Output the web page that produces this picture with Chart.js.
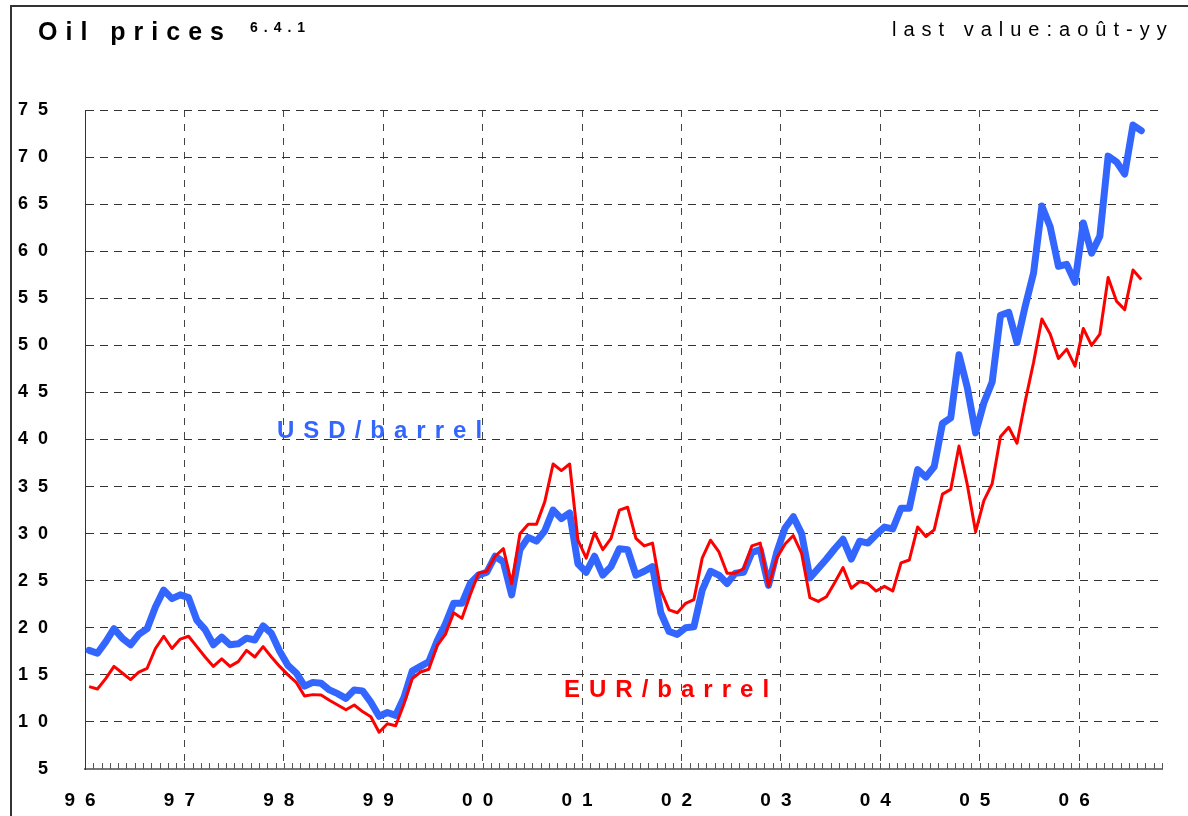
<!DOCTYPE html>
<html>
<head>
<meta charset="utf-8">
<script src="https://cdn.jsdelivr.net/npm/chart.js@4"></script>
<style>
  body { margin: 0; background: #fff; }
  #wrap { position: relative; width: 1188px; height: 816px; overflow: hidden; font-family: "Liberation Sans", Arial, sans-serif; }
  #frame { position: absolute; left: 10px; top: 5px; width: 1300px; height: 900px; border-top: 2px solid #333; border-left: 2px solid #333; }
  .txt { position: absolute; white-space: nowrap; }
  #title { left: 38px; top: 19px; font-size: 25px; line-height: 25px; font-weight: bold; letter-spacing: 8px; color: #000; }
  #titleNo { left: 250px; top: 20px; font-size: 14px; line-height: 14px; font-weight: bold; letter-spacing: 6px; color: #000; }
  #lastValue { left: 892px; top: 19px; font-size: 20px; line-height: 20px; letter-spacing: 7px; color: #000; }
  #usdLabel { left: 277px; top: 418px; font-size: 24px; line-height: 24px; font-weight: bold; letter-spacing: 9px; color: #3366ff; }
  #eurLabel { left: 564px; top: 677px; font-size: 24px; line-height: 24px; font-weight: bold; letter-spacing: 9px; color: #ff0000; }
  canvas { position: absolute; left: 0; top: 0; }
</style>
</head>
<body>
<div id="wrap">
  <div id="frame"></div>
  <canvas id="oilChart" width="1188" height="816"></canvas>
  <div class="txt" id="title">Oil prices</div>
  <div class="txt" id="titleNo">6.4.1</div>
  <div class="txt" id="lastValue">last value:août-yy</div>
  <div class="txt" id="usdLabel">USD/barrel</div>
  <div class="txt" id="eurLabel">EUR/barrel</div>
</div>
<script>
// 年份刻度
let yearLabels = ['96', '97', '98', '99', '00', '01', '02', '03', '04', '05', '06'];

// 月度油价, 1996年1月 - 2006年8月
let usdPerBarrel = [
  17.6, 17.3, 18.5, 19.9, 18.9, 18.2, 19.3, 19.9, 22.2, 24.0, 23.1, 23.5, // 96
  23.2, 20.8, 19.8, 18.2, 19.0, 18.2, 18.3, 18.9, 18.7, 20.2, 19.4, 17.5, // 97
  16.0, 15.2, 13.8, 14.2, 14.1, 13.4, 13.0, 12.5, 13.4, 13.3, 12.1, 10.6, // 98
  11.0, 10.7, 12.6, 15.4, 15.9, 16.4, 18.6, 20.4, 22.6, 22.6, 24.7, 25.6, // 99
  25.9, 27.6, 27.0, 23.5, 28.3, 29.6, 29.2, 30.3, 32.5, 31.6, 32.2, 26.8, // 00
  25.9, 27.6, 25.6, 26.5, 28.4, 28.3, 25.6, 26.0, 26.5, 21.6, 19.6, 19.3, // 01
  20.0, 20.1, 24.0, 26.0, 25.6, 24.7, 25.8, 25.9, 28.0, 28.3, 24.5, 28.0, // 02
  30.6, 31.8, 30.0, 25.3, 26.3, 27.3, 28.4, 29.4, 27.3, 29.2, 29.0, 29.9, // 03
  30.7, 30.5, 32.7, 32.7, 36.8, 36.0, 37.1, 41.7, 42.3, 49.0, 45.5, 40.7, // 04
  43.9, 46.1, 53.2, 53.5, 50.3, 54.2, 57.7, 64.8, 62.6, 58.4, 58.6, 56.7, // 05
  63.0, 59.8, 61.6, 70.1, 69.5, 68.2, 73.4, 72.8                          // 06
];

let eurPerBarrel = [
  13.75, 13.5, 14.6, 15.9, 15.2, 14.5, 15.3, 15.7, 17.8, 19.1, 17.8, 18.8, // 96
  19.1, 18.0, 16.9, 15.9, 16.7, 15.9, 16.4, 17.6, 16.9, 18.0, 16.9, 15.9,  // 97
  15.0, 14.2, 12.75, 12.9, 12.85, 12.3, 11.8, 11.3, 11.8, 11.1, 10.55, 8.9, // 98
  9.8, 9.6, 11.9, 14.6, 15.3, 15.6, 18.1, 19.3, 21.6, 21.0, 23.5, 25.8,    // 99
  26.0, 27.6, 28.4, 24.7, 30.0, 31.0, 31.0, 33.4, 37.4, 36.7, 37.4, 29.3,  // 00
  27.4, 30.1, 28.3, 29.5, 32.5, 32.8, 29.5, 28.7, 29.0, 24.0, 21.9, 21.6,  // 01
  22.6, 23.0, 27.4, 29.3, 28.1, 25.8, 25.8, 26.3, 28.7, 29.0, 24.4, 27.4,  // 02
  28.9, 29.8, 27.9, 23.2, 22.8, 23.3, 24.8, 26.4, 24.2, 24.9, 24.7, 23.9,  // 03
  24.4, 23.9, 26.9, 27.2, 30.7, 29.7, 30.4, 34.2, 34.7, 39.3, 35.2, 30.2,  // 04
  33.5, 35.3, 40.3, 41.3, 39.6, 44.1, 48.2, 52.8, 51.2, 48.6, 49.6, 47.8,  // 05
  51.8, 50.0, 51.2, 57.2, 54.7, 53.8, 58.0, 57.0                           // 06
];

// 月份 -> x (每个月取月中)
function toPoints(values) {
  return values.map(function (v, i) { return { x: i + 0.5, y: v }; });
}

let tickFont = { family: '"Liberation Sans", Arial, sans-serif', weight: 'bold' };

// 刻度文字的字距 + 月份小刻度
let axisDecor = {
  id: 'axisDecor',
  beforeDraw: function (chart) {
    chart.ctx.letterSpacing = '10px';
  },
  afterDraw: function (chart) {
    let ctx = chart.ctx;
    let xs = chart.scales.x;
    let bottom = chart.chartArea.bottom;
    ctx.save();
    ctx.letterSpacing = '0px';
    ctx.strokeStyle = '#555';
    ctx.lineWidth = 1;
    ctx.beginPath();
    for (let m = 1; m <= 130; m++) {
      let px = Math.round(xs.getPixelForValue(m)) + 0.5;
      ctx.moveTo(px, bottom);
      ctx.lineTo(px, bottom - 6);
    }
    ctx.stroke();
    ctx.restore();
  }
};

new Chart(document.getElementById('oilChart'), {
  type: 'line',
  data: {
    datasets: [
      {
        label: 'USD/barrel',
        data: toPoints(usdPerBarrel),
        borderColor: '#3366ff',
        borderWidth: 7,
        borderJoinStyle: 'round',
        borderCapStyle: 'round',
        pointRadius: 0,
        tension: 0,
        order: 2
      },
      {
        label: 'EUR/barrel',
        data: toPoints(eurPerBarrel),
        borderColor: '#ff0000',
        borderWidth: 3,
        borderJoinStyle: 'round',
        pointRadius: 0,
        tension: 0,
        order: 1
      }
    ]
  },
  options: {
    responsive: false,
    animation: false,
    devicePixelRatio: 1,
    layout: { padding: { top: 110, right: 26, bottom: 0, left: 0 } },
    plugins: { legend: { display: false }, tooltip: { enabled: false } },
    scales: {
      x: {
        type: 'linear',
        min: 0,
        max: 130,
        afterFit: function (s) { s.height = 47; },
        grid: { color: '#444', lineWidth: 1, drawTicks: false },
        border: { color: '#777', width: 2, dash: [7, 7] },
        ticks: {
          stepSize: 12,
          includeBounds: false,
          autoSkip: false,
          maxRotation: 0,
          padding: 20,
          color: '#000',
          font: Object.assign({ size: 19 }, tickFont),
          callback: function (v) { return v % 12 === 0 ? yearLabels[v / 12] : ''; }
        }
      },
      y: {
        min: 5,
        max: 75,
        afterFit: function (s) { s.width = 85; },
        grid: { color: '#333', lineWidth: 1, drawTicks: false },
        border: { color: '#333', width: 1, dash: [8, 6] },
        ticks: {
          stepSize: 5,
          padding: 27,
          color: '#000',
          font: Object.assign({ size: 18 }, tickFont)
        }
      }
    }
  },
  plugins: [axisDecor]
});
</script>
</body>
</html>
